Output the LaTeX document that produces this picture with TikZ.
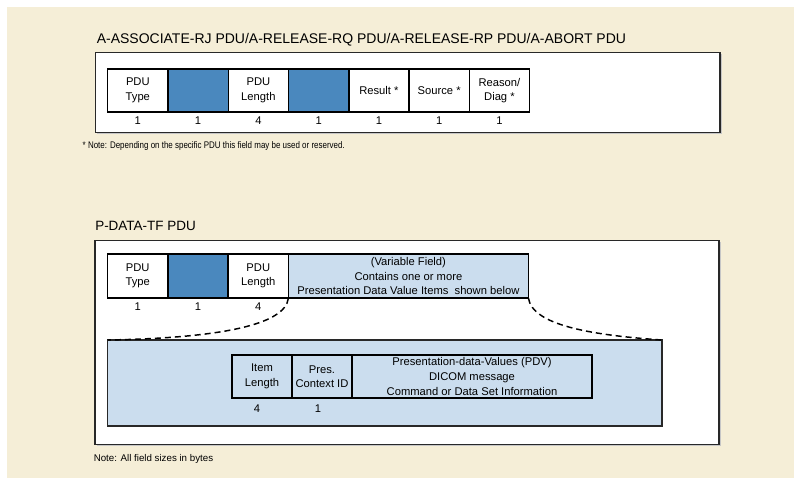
\documentclass[tikz,border=0pt]{standalone}
\usepackage{fontspec}
\setmainfont{Liberation Sans}
\definecolor{cream}{RGB}{245,238,215}
\definecolor{fieldblue}{RGB}{74,136,190}
\definecolor{paleblue}{RGB}{203,221,238}
\definecolor{framegray}{RGB}{40,40,40}
\begin{document}
\begin{tikzpicture}[x=0.75pt,y=-0.75pt,
  frame/.style={draw=framegray,line width=1.1pt,fill=white,inner sep=0pt,outer sep=0pt,anchor=north west},
  cellbase/.style={draw=black,line width=1.1pt,inner sep=0pt,outer sep=0pt,anchor=north west,
    align=center,font=\fontsize{8.4}{10.9}\selectfont,minimum width=45.2pt},
  cellw/.style={cellbase,fill=white},
  cellb/.style={cellbase,fill=fieldblue},
  cellp/.style={cellbase,fill=paleblue},
  num/.style={anchor=base,inner sep=0pt,font=\fontsize{8.4}{10}\selectfont},
  title/.style={anchor=base west,inner sep=0pt,font=\fontsize{10.5}{12}\selectfont},
  note/.style={anchor=base west,inner sep=0pt},
  dashline/.style={draw=black,line width=1.1pt,dash pattern=on 4.5pt off 3pt}
]
\useasboundingbox (0,0) rectangle (795,479);
\fill[white] (0,0) rectangle (795,479);
\fill[cream] (7,7) rectangle (794,478);

% ---------- Section 1 ----------
\node[title] (t1) at (96.5,43) {A-ASSOCIATE-RJ PDU/A-RELEASE-RQ PDU/A-RELEASE-RP PDU/A-ABORT PDU};
\fill[gray!45] (97,54) rectangle (721.5,134);
\node[frame,minimum width=468.4pt,minimum height=60pt] (f1) at (95.5,52.5) {};

\node[cellw,minimum height=32.25pt] (a1) at (107.7,69) {PDU\\Type};
\node[cellb,minimum height=32.25pt] (a2) at (a1.north east) {};
\node[cellw,minimum height=32.25pt] (a3) at (a2.north east) {PDU\\Length};
\node[cellb,minimum height=32.25pt] (a4) at (a3.north east) {};
\node[cellw,minimum height=32.25pt] (a5) at (a4.north east) {Result *};
\node[cellw,minimum height=32.25pt] (a6) at (a5.north east) {Source *};
\node[cellw,minimum height=32.25pt] (a7) at (a6.north east) {Reason/\\Diag *};

\foreach \i in {1,...,7}{
  \path (a\i.south) ++(0,12) node[num] (na\i) {\ifnum\i=3 4\else 1\fi};
}

\node[note,font=\fontsize{7.2}{8}\selectfont,xscale=0.83] (note1) at (82.5,148.5) {* Note: Depending on the specific PDU this field may be used or reserved.};

% ---------- Section 2 ----------
\node[title,font=\fontsize{10.1}{12}\selectfont] (t2) at (95,230) {P-DATA-TF PDU};
\fill[gray!45] (96.5,242) rectangle (721,446);
\node[frame,minimum width=468pt,minimum height=153pt] (f2) at (95,240.5) {};

\node[cellw,minimum height=33pt] (b1) at (107.6,254) {PDU\\Type};
\node[cellb,minimum height=33pt] (b2) at (b1.north east) {};
\node[cellw,minimum height=33pt] (b3) at (b2.north east) {PDU\\Length};
\node[cellp,minimum height=33pt,minimum width=180pt] (vf) at (b3.north east) {(Variable Field)\\Contains one or more\\Presentation Data Value Items\ \ shown below};

\path (b1.south) ++(0,12) node[num] (nb1) {1};
\path (b2.south) ++(0,12) node[num] (nb2) {1};
\path (b3.south) ++(0,12) node[num] (nb3) {4};

\node[draw=framegray,line width=1.1pt,fill=paleblue,inner sep=0pt,outer sep=0pt,anchor=north west,
  minimum width=415.9pt,minimum height=64.5pt] (low) at (107.5,340) {};

\node[cellp,minimum height=32.25pt,minimum width=45pt] (c1) at (232,355) {Item\\Length};
\node[cellp,minimum height=32.25pt,minimum width=45pt] (c2) at (c1.north east) {Pres.\\Context ID};
\node[cellp,minimum height=32.25pt,minimum width=180pt] (c3) at (c2.north east) {Presentation-data-Values (PDV)\\DICOM message\\Command or Data Set Information};

\path (c1.south) ++(-5,14.5) node[num] (nc1) {4};
\path (c2.south) ++(-4,14.5) node[num] (nc2) {1};

\draw[dashline] (vf.south west) .. controls +(-3,27) and +(112,-2) .. (low.north west);
\draw[dashline] (vf.south east) .. controls +(4,27) and +(-72,-5) .. (low.north east);

\node[note,font=\fontsize{7.3}{9}\selectfont] (note2) at (93.5,461) {Note: All field sizes in bytes};
\end{tikzpicture}
\end{document}
